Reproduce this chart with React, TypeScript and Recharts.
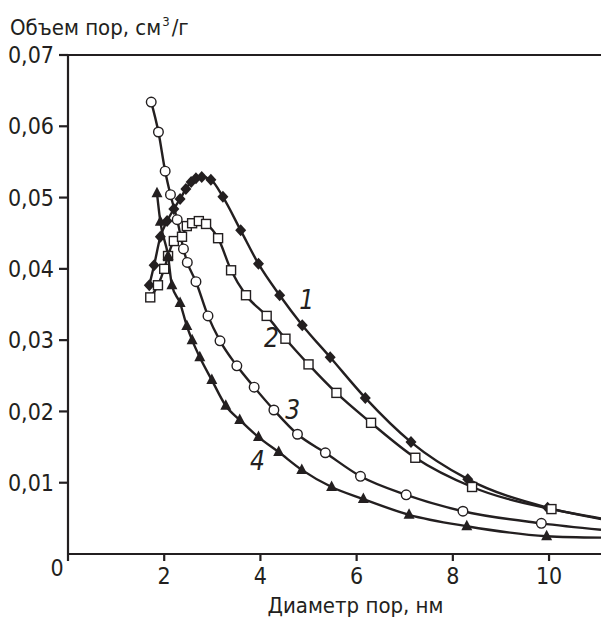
import { LineChart, Line, XAxis, YAxis, ReferenceLine, ReferenceDot } from 'recharts'

// диаметр пор, нм / объем пор, см3/г
const diam1 = [1.69, 1.79, 1.92, 2.06, 2.2, 2.33, 2.45, 2.56, 2.66, 2.78, 2.97, 3.22, 3.59, 3.96, 4.4, 4.87, 5.45, 6.18, 7.13, 8.31, 9.97, 11.08]
const vol1 = [0.0377, 0.0405, 0.0445, 0.0467, 0.0484, 0.0498, 0.0512, 0.0522, 0.0527, 0.0529, 0.0525, 0.0501, 0.0454, 0.0407, 0.0363, 0.0321, 0.0276, 0.0219, 0.0157, 0.0105, 0.0065, 0.0049]

const diam2 = [1.71, 1.87, 2.0, 2.08, 2.2, 2.37, 2.47, 2.58, 2.72, 2.87, 3.12, 3.39, 3.7, 4.13, 4.52, 5.0, 5.58, 6.3, 7.22, 8.4, 10.05, 11.08]
const vol2 = [0.036, 0.0377, 0.04, 0.0418, 0.0439, 0.0445, 0.046, 0.0464, 0.0467, 0.0463, 0.0443, 0.0398, 0.0363, 0.0334, 0.0302, 0.0266, 0.0226, 0.0184, 0.0135, 0.0094, 0.0063, 0.005]

const diam3 = [1.73, 1.88, 2.02, 2.13, 2.27, 2.4, 2.48, 2.66, 2.91, 3.16, 3.51, 3.87, 4.28, 4.77, 5.35, 6.08, 7.03, 8.21, 9.84, 11.08]
const vol3 = [0.0634, 0.0592, 0.0537, 0.0504, 0.0469, 0.0428, 0.0409, 0.0382, 0.0334, 0.0299, 0.0264, 0.0234, 0.0202, 0.0168, 0.0142, 0.0109, 0.0083, 0.006, 0.0043, 0.0034]

const diam4 = [1.85, 1.92, 2.08, 2.16, 2.33, 2.47, 2.58, 2.74, 2.99, 3.28, 3.57, 3.96, 4.38, 4.86, 5.48, 6.14, 7.09, 8.29, 9.95, 11.08]
const vol4 = [0.0506, 0.0466, 0.0418, 0.0377, 0.0352, 0.032, 0.03, 0.0276, 0.0244, 0.0208, 0.0188, 0.0164, 0.0143, 0.0118, 0.0094, 0.0077, 0.0055, 0.0039, 0.0025, 0.0023]

const xTicks = [0, 2, 4, 6, 8, 10]
const yTicks = [0.01, 0.02, 0.03, 0.04, 0.05, 0.06, 0.07]

// подписи кривых: номер, x, y
const curveLabels = [
  { n: '1', x: 4.96, y: 0.0356 },
  { n: '2', x: 4.23, y: 0.0303 },
  { n: '3', x: 4.67, y: 0.0203 },
  { n: '4', x: 3.94, y: 0.0131 },
]

const FONT = '"DejaVu Sans Condensed", sans-serif'
const INK = '#231f20'

const toRows = (xs: number[], ys: number[]) =>
  xs.map((x, i) => ({ d: x, v: ys[i], last: i === xs.length - 1 }))

const series = [
  { key: 's1', rows: toRows(diam1, vol1), marker: 'diamond' },
  { key: 's2', rows: toRows(diam2, vol2), marker: 'square' },
  { key: 's3', rows: toRows(diam3, vol3), marker: 'circle' },
  { key: 's4', rows: toRows(diam4, vol4), marker: 'triangle' },
]

function makeDot(marker: string) {
  return (props: any) => {
    const { cx, cy, payload, index } = props
    if (payload?.last || cx == null || cy == null) return <g key={index} />
    if (marker === 'diamond')
      return <polygon key={index} points={`${cx},${cy - 6} ${cx + 5.5},${cy} ${cx},${cy + 6} ${cx - 5.5},${cy}`} fill={INK} />
    if (marker === 'square')
      return <rect key={index} x={cx - 4.5} y={cy - 4.5} width={9} height={9} fill="#fff" stroke={INK} strokeWidth={1.4} />
    if (marker === 'circle')
      return <circle key={index} cx={cx} cy={cy} r={4.8} fill="#fff" stroke={INK} strokeWidth={1.4} />
    return <polygon key={index} points={`${cx},${cy - 6.5} ${cx + 5.5},${cy + 4} ${cx - 5.5},${cy + 4}`} fill={INK} />
  }
}

function XTick(props: any) {
  const { x, y, payload } = props
  const zero = payload.value === 0
  return (
    <text x={zero ? x - 11 : x} y={zero ? y + 13 : y + 21} textAnchor="middle" fontFamily={FONT} fontSize={23} fill={INK}>
      {payload.value}
    </text>
  )
}

export default function App() {
  return (
    <div style={{ position: 'fixed', left: 0, top: 0, width: 601, height: 617, background: '#fff' }}>
      <div style={{ position: 'absolute', left: 10, top: 15, fontFamily: FONT, fontSize: 22, color: INK, lineHeight: 1, whiteSpace: 'nowrap' }}>
        Объем пор, см<sup style={{ fontSize: 13, marginLeft: 1, marginRight: 2, verticalAlign: 9 }}>3</sup>/г
      </div>
      <LineChart width={601} height={617} margin={{ top: 55, right: 0, bottom: 0, left: 0 }}>
        <XAxis
          type="number"
          dataKey="d"
          domain={[0, 11.08]}
          ticks={xTicks}
          allowDataOverflow
          height={63}
          stroke={INK}
          strokeWidth={2.2}
          tickSize={7}
          tick={<XTick />}
          label={{ value: 'Диаметр пор, нм', position: 'insideBottom', offset: 4, dx: 21, fontFamily: FONT, fontSize: 22, fill: INK }}
        />
        <YAxis
          type="number"
          dataKey="v"
          domain={[0, 0.07]}
          ticks={yTicks}
          width={68}
          stroke={INK}
          strokeWidth={2.2}
          tickSize={9}
          tickMargin={5}
          tickFormatter={(v: number) => v.toFixed(2).replace('.', ',')}
          tick={{ fontFamily: FONT, fontSize: 23, fill: INK }}
        />
        <ReferenceLine y={0.07} stroke={INK} strokeWidth={1.8} />
        {series.map((s) => (
          <Line
            key={s.key}
            data={s.rows}
            dataKey="v"
            type="monotone"
            stroke={INK}
            strokeWidth={2.4}
            dot={makeDot(s.marker)}
            activeDot={false}
            isAnimationActive={false}
          />
        ))}
        {curveLabels.map((l) => (
          <ReferenceDot
            key={l.n}
            x={l.x}
            y={l.y}
            r={0}
            fill="none"
            stroke="none"
            label={{ value: l.n, position: 'center', fontFamily: FONT, fontSize: 26, fontStyle: 'italic', fill: INK }}
          />
        ))}
      </LineChart>
    </div>
  )
}
